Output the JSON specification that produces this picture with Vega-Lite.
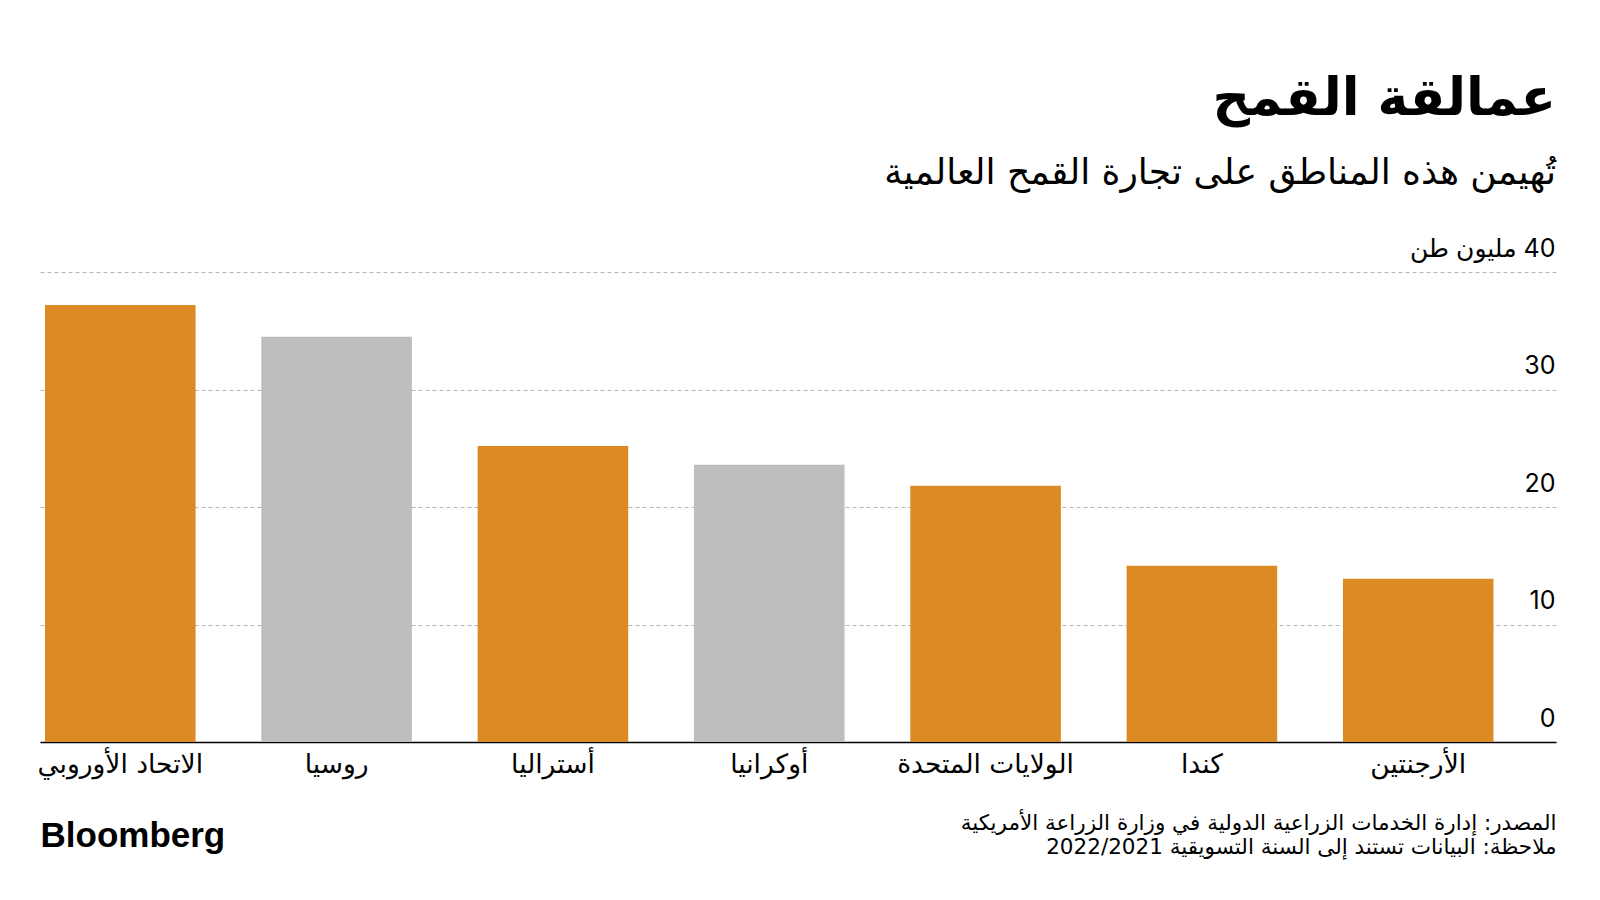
{
  "$schema": "https://vega.github.io/schema/vega-lite/v6.json",
  "autosize": {"type": "none"},
  "padding": {"left": 40, "top": 272, "right": 44, "bottom": 158},
  "width": 1516,
  "height": 470,
  "background": "#ffffff",
  "title": {
    "text": "عمالقة القمح",
    "subtitle": "تُهيمن هذه المناطق على تجارة القمح العالمية",
    "anchor": "end",
    "frame": "group",
    "align": "right",
    "font": "DejaVu Sans",
    "fontSize": 52,
    "fontWeight": "bold",
    "color": "#000000",
    "subtitleFont": "DejaVu Sans",
    "subtitleFontSize": 36,
    "subtitleColor": "#000000",
    "subtitlePadding": 30,
    "offset": 44
  },
  "data": {
    "values": [
      {"region": "الاتحاد الأوروبي", "exports": 37.2, "group": "other"},
      {"region": "روسيا", "exports": 34.5, "group": "russia_ukraine"},
      {"region": "أستراليا", "exports": 25.2, "group": "other"},
      {"region": "أوكرانيا", "exports": 23.6, "group": "russia_ukraine"},
      {"region": "الولايات المتحدة", "exports": 21.8, "group": "other"},
      {"region": "كندا", "exports": 15.0, "group": "other"},
      {"region": "الأرجنتين", "exports": 13.9, "group": "other"}
    ]
  },
  "layer": [
    {
      "mark": {"type": "bar"},
      "encoding": {
        "x": {
          "field": "region",
          "type": "nominal",
          "sort": null,
          "title": null,
          "scale": {"paddingInner": 0.304, "paddingOuter": 0.156, "align": 0.074},
          "axis": {
            "title": null,
            "labelAngle": 0,
            "labelFont": "DejaVu Sans",
            "labelFontSize": 26.5,
            "labelColor": "#000000",
            "labelPadding": 9,
            "labelBaseline": "top",
            "ticks": false,
            "domain": true,
            "domainColor": "#000000",
            "domainWidth": 1.5,
            "grid": false
          }
        },
        "y": {
          "field": "exports",
          "type": "quantitative",
          "scale": {"domain": [0, 40], "nice": false},
          "axis": {
            "orient": "right",
            "values": [0, 10, 20, 30, 40],
            "labelExpr": "datum.value == 40 ? '\u200f40 مليون طن' : datum.label",
            "title": [
              "المصدر: إدارة الخدمات الزراعية الدولية في وزارة الزراعة الأمريكية",
              "ملاحظة: البيانات تستند إلى السنة التسويقية 2022/2021"
            ],
            "titleAngle": 0,
            "titleX": 0,
            "titleY": 557,
            "titleAlign": "right",
            "titleBaseline": "alphabetic",
            "titleFont": "DejaVu Sans",
            "titleFontSize": 21.5,
            "titleFontWeight": "normal",
            "titleLineHeight": 24,
            "titleColor": "#000000",
            "domain": false,
            "ticks": false,
            "tickSize": 0,
            "labelAlign": "right",
            "labelBaseline": "alphabetic",
            "labelPadding": -1,
            "labelOffset": -16,
            "labelFont": "Inter, DejaVu Sans",
            "labelFontSize": 25,
            "labelColor": "#000000",
            "grid": true,
            "gridColor": "#b5b5b5",
            "gridDash": [4, 3],
            "gridWidth": 1
          }
        },
        "color": {
          "field": "group",
          "type": "nominal",
          "scale": {"domain": ["other", "russia_ukraine"], "range": ["#DC8A24", "#BDBDBD"]},
          "legend": null
        }
      }
    },
    {
      "mark": {"type": "bar", "opacity": 0},
      "encoding": {
        "x": {"field": "region", "type": "nominal", "sort": null},
        "y": {
          "field": "exports",
          "type": "quantitative",
          "axis": {
            "orient": "left",
            "labels": false,
            "ticks": false,
            "domain": false,
            "grid": false,
            "title": "Bloomberg",
            "titleAngle": 0,
            "titleX": 0,
            "titleY": 574,
            "titleAlign": "left",
            "titleBaseline": "alphabetic",
            "titleFont": "Liberation Sans",
            "titleFontSize": 35,
            "titleFontWeight": "bold",
            "titleColor": "#000000"
          }
        }
      }
    }
  ],
  "resolve": {"axis": {"y": "independent"}},
  "config": {
    "view": {"stroke": null}
  }
}
